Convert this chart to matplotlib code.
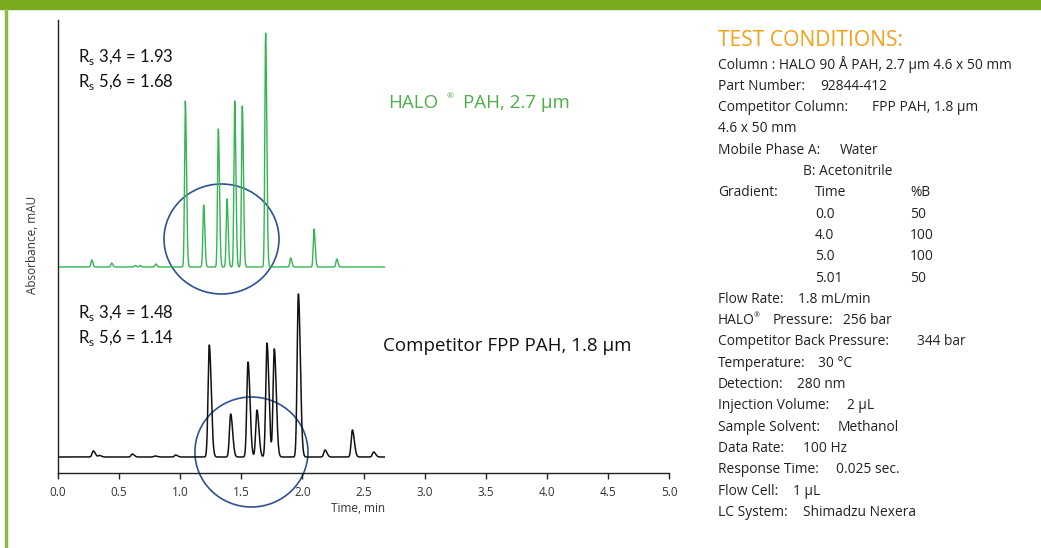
import numpy as np
import matplotlib
matplotlib.use('Agg')
from matplotlib import pyplot as plt
from matplotlib.patches import Ellipse, Rectangle

plt.rcParams['font.family'] = ['Open Sans', 'DejaVu Sans']
plt.rcParams['mathtext.fontset'] = 'custom'
plt.rcParams['mathtext.rm'] = 'Lato'

W, H = 1041, 548

# HALO PAH, 2.7 um trace (peak times in min, heights in mAU above baseline)
halo_times = [0.276, 0.439, 0.63, 0.671, 0.80, 1.042, 1.192, 1.312, 1.383,
              1.446, 1.508, 1.699, 1.904, 2.095, 2.281]
halo_heights = [7, 4, 1.5, 1.5, 3, 166, 62, 138, 68, 166, 161, 234, 9, 38, 8]
halo_offset = 206

# Competitor FPP PAH, 1.8 um trace
comp_times = [0.289, 0.34, 0.608, 0.794, 0.963, 1.238, 1.413, 1.555, 1.628,
              1.710, 1.770, 1.967, 2.185, 2.409, 2.583]
comp_heights = [6, 1.5, 3, 1, 2, 112, 43, 95, 47, 114, 108, 163, 7, 27, 5]
comp_offset = 16

run_end = 2.67
x_ticks = [0.0, 0.5, 1.0, 1.5, 2.0, 2.5, 3.0, 3.5, 4.0, 4.5, 5.0]

rs_halo = ['3,4 = 1.93', '5,6 = 1.68']
rs_comp = ['3,4 = 1.48', '5,6 = 1.14']

conditions = [
    ('Column : HALO 90 Å PAH, 2.7 µm 4.6 x 50 mm', None),
    ('Part Number:', '92844-412'),
    ('Competitor Column:', 'FPP PAH, 1.8 µm'),
    ('4.6 x 50 mm', None),
    ('Mobile Phase A:', 'Water'),
]
gradient_time = ['Time', '0.0', '4.0', '5.0', '5.01']
gradient_b = ['%B', '50', '100', '100', '50']
conditions2 = [
    ('Flow Rate:', '1.8 mL/min'),
    ('HALO', '256 bar'),
    ('Competitor Back Pressure:', '344 bar'),
    ('Temperature:', '30 °C'),
    ('Detection:', '280 nm'),
    ('Injection Volume:', '2 µL'),
    ('Sample Solvent:', 'Methanol'),
    ('Data Rate:', '100 Hz'),
    ('Response Time:', '0.025 sec.'),
    ('Flow Cell:', '1 µL'),
    ('LC System:', 'Shimadzu Nexera'),
]
value_x2 = [798, 843, 917, 818, 797, 847, 838, 803, 836, 793, 803]


def trace(t, times, heights, s_left, s_right):
    y = np.zeros_like(t)
    for tr, h in zip(times, heights):
        s = np.where(t < tr, s_left, s_right)
        y += h * np.exp(-0.5 * ((t - tr) / s) ** 2)
    return y


def fx(px):
    return px / W


def fy(py):
    return 1 - py / H


fig = plt.figure(figsize=(W / 100, H / 100), dpi=100)

# frame
fig.patches.append(Rectangle((0, fy(9)), 1, 9 / H, transform=fig.transFigure,
                             color='#7aab1e', zorder=0))
fig.patches.append(Rectangle((fx(5), 0), 2 / W, fy(9), transform=fig.transFigure,
                             color='#8dbb3c', zorder=0))

ax = fig.add_axes([fx(58), (H - 473) / H, (669 - 58) / W, (473 - 20) / H])
t = np.linspace(0, run_end, 4000)
ax.plot(t, halo_offset + trace(t, halo_times, halo_heights, 0.0065, 0.0095),
        color='#33b552', lw=1.0)
ax.plot(t, comp_offset + trace(t, comp_times, comp_heights, 0.010, 0.016),
        color='#111111', lw=1.1)

ax.add_patch(Ellipse((1.338, 234), 0.941, 110, fill=False, ec='#2d5291',
                     lw=1.2, clip_on=False))
ax.add_patch(Ellipse((1.583, 21), 0.925, 110, fill=False, ec='#2d5291',
                     lw=1.2, clip_on=False))

ax.set_xlim(0, 5)
ax.set_ylim(0, 453)
ax.set_xticks(x_ticks)
ax.set_xticklabels(['%.1f' % v for v in x_ticks])
ax.set_yticks([])
ax.spines['top'].set_visible(False)
ax.spines['right'].set_visible(False)
for sp in ['left', 'bottom']:
    ax.spines[sp].set_color('#222222')
    ax.spines[sp].set_linewidth(1.0)
ax.tick_params(axis='x', length=4, width=1, color='#222222', pad=5,
               labelsize=8.5, labelcolor='#333333')

fig.text(fx(358), fy(509), 'Time, min', ha='center', va='center',
         fontsize=8.5, color='#333333')
fig.text(fx(33), fy(245), 'Absorbance, mAU', ha='center', va='center',
         rotation=90, fontsize=8.5, color='#333333')

# resolution labels
for i, s in enumerate(rs_halo):
    fig.text(fx(78), fy(57 + 25 * i), r'R$_\mathrm{s}$ ' + s, ha='left',
             va='center', fontsize=12, family='Lato', color='#111111')
for i, s in enumerate(rs_comp):
    fig.text(fx(78), fy(313 + 25 * i), r'R$_\mathrm{s}$ ' + s, ha='left',
             va='center', fontsize=12, family='Lato', color='#111111')

# trace labels
fig.text(fx(388), fy(103), 'HALO', ha='left', va='center', fontsize=13.5,
         color='#4caf48')
fig.text(fx(450), fy(97), '®', ha='center', va='center', fontsize=6,
         color='#4caf48')
fig.text(fx(463), fy(103), 'PAH, 2.7 µm', ha='left', va='center',
         fontsize=13.5, color='#4caf48')
fig.text(fx(383), fy(346), 'Competitor FPP PAH, 1.8 µm', ha='left',
         va='center', fontsize=13.5, color='#111111')

# test conditions
fig.text(fx(718), fy(40), 'TEST CONDITIONS:', ha='left', va='center',
         fontsize=15.2, color='#f6a01a')
tc = dict(ha='left', va='center', fontsize=9.9, color='#222222')
value_x1 = [None, 820, 872, None, 840]
y = 65
for (lab, val), vx in zip(conditions, value_x1):
    fig.text(fx(718), fy(y), lab, **tc)
    if val:
        fig.text(fx(vx), fy(y), val, **tc)
    y += 21.3
fig.text(fx(803), fy(y), 'B: Acetonitrile', **tc)
y += 21.3
fig.text(fx(718), fy(y), 'Gradient:', **tc)
for gt, gb in zip(gradient_time, gradient_b):
    fig.text(fx(815), fy(y), gt, **tc)
    fig.text(fx(910), fy(y), gb, **tc)
    y += 21.3
for (lab, val), vx in zip(conditions2, value_x2):
    fig.text(fx(718), fy(y), lab, **tc)
    if lab == 'HALO':
        fig.text(fx(757), fy(y - 5), '®', ha='center', va='center',
                 fontsize=5, color='#222222')
        fig.text(fx(773), fy(y), 'Pressure:', **tc)
    fig.text(fx(vx), fy(y), val, **tc)
    y += 21.3

fig.savefig('out.png', dpi=100)
